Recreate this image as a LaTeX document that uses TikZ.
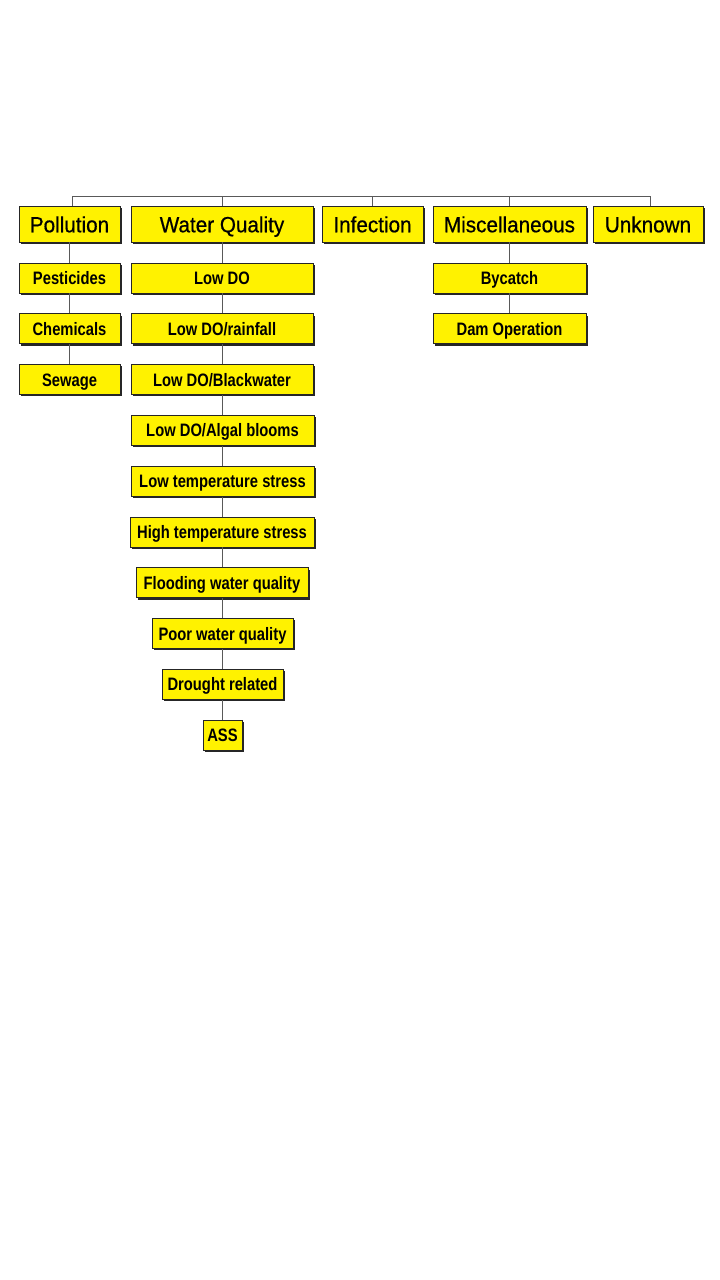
\documentclass[tikz,border=0pt]{standalone}
\usepackage{fontspec}
\setmainfont{Liberation Sans}
\newfontfamily\topf{Liberation Sans}[FakeStretch=0.94,FakeBold=0.6]
\newfontfamily\subf{Liberation Sans}[FakeStretch=0.82]
\usetikzlibrary{shadows}
\tikzset{
  box/.style={draw=black!85, line width=0.8pt, fill=yellow, inner sep=0pt, text=black,
    text depth=0pt,
    drop shadow={shadow xshift=1.6pt, shadow yshift=-1.8pt, fill=black!85, opacity=1}},
  topbox/.style={box, minimum height=36pt, text height=16.5pt, font=\topf\fontsize{22}{24}\selectfont},
  subbox/.style={box, minimum height=30pt, text height=12.9pt, font=\subf\bfseries\fontsize{18}{20}\selectfont},
  conn/.style={draw=black!65, line width=1pt}
}
\begin{document}
\begin{tikzpicture}[x=1pt,y=-1pt]
\fill[white] (0,0) rectangle (720,1280);
\useasboundingbox (0,0) rectangle (720,1280);
% top row
\node[topbox, minimum width=101pt] (pol) at (69.5,224) {Pollution};
\node[topbox, minimum width=182pt] (wq) at (222,224) {Water Quality};
\node[topbox, minimum width=101pt] (inf) at (372.5,224) {Infection};
\node[topbox, minimum width=153pt] (misc) at (509.5,224) {Miscellaneous};
\node[topbox, minimum width=110pt] (unk) at (648,224) {Unknown};
% pollution column
\node[subbox, minimum width=101pt] (pest) at (69.5,278) {Pesticides};
\node[subbox, minimum width=101pt] (chem) at (69.5,328.8) {Chemicals};
\node[subbox, minimum width=101pt] (sew) at (69.5,379.6) {Sewage};
% water quality column
\node[subbox, minimum width=182pt] (lowdo) at (222,278) {Low DO};
\node[subbox, minimum width=182pt] (rain) at (222,328.8) {Low DO/rainfall};
\node[subbox, minimum width=182pt] (black) at (222,379.6) {Low DO/Blackwater};
\node[subbox, minimum width=183pt] (algal) at (222.5,430.4) {Low DO/Algal blooms};
\node[subbox, minimum width=183pt] (lowt) at (222.5,481.2) {Low temperature stress};
\node[subbox, minimum width=184pt] (hight) at (222,532) {High temperature stress};
\node[subbox, minimum width=172pt] (flood) at (222,582.8) {Flooding water quality};
\node[subbox, minimum width=141pt] (poor) at (222.5,633.6) {Poor water quality};
\node[subbox, minimum width=121pt] (drought) at (222.5,684.4) {Drought related};
\node[subbox, minimum width=39pt] (ass) at (222.5,735.2) {ASS};
% misc column
\node[subbox, minimum width=153pt] (byc) at (509.5,278) {Bycatch};
\node[subbox, minimum width=153pt] (dam) at (509.5,328.8) {Dam Operation};
% bus
\coordinate (busL) at (72,196);
\coordinate (busR) at (650,196);
\draw[conn] (busL) -- (busR);
\draw[conn] (busL) -- (busL |- pol.north);
\draw[conn] (wq.north |- busL) -- (wq.north);
\draw[conn] (inf.north |- busL) -- (inf.north);
\draw[conn] (misc.north |- busL) -- (misc.north);
\draw[conn] (busR) -- (busR |- unk.north);
\draw[conn] (pol.south) -- (pest.north);
\draw[conn] (pest.south) -- (chem.north);
\draw[conn] (chem.south) -- (sew.north);
\draw[conn] (wq.south) -- (lowdo.north);
\draw[conn] (lowdo.south) -- (rain.north);
\draw[conn] (rain.south) -- (black.north);
\draw[conn] (black.south) -- (algal.north -| black.south);
\draw[conn] (algal.south -| black.south) -- (lowt.north -| black.south);
\draw[conn] (lowt.south -| black.south) -- (hight.north -| black.south);
\draw[conn] (hight.south -| black.south) -- (flood.north -| black.south);
\draw[conn] (flood.south -| black.south) -- (poor.north -| black.south);
\draw[conn] (poor.south -| black.south) -- (drought.north -| black.south);
\draw[conn] (drought.south -| black.south) -- (ass.north -| black.south);
\draw[conn] (misc.south) -- (byc.north);
\draw[conn] (byc.south) -- (dam.north);
\end{tikzpicture}
\end{document}
